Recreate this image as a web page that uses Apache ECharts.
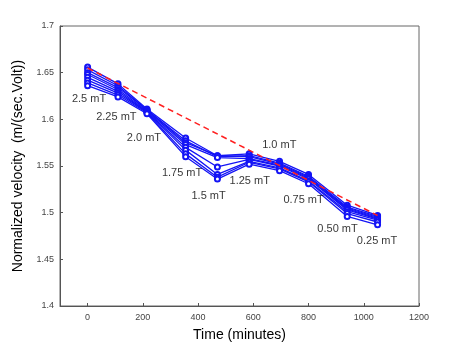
<!DOCTYPE html>
<html>
<head>
<meta charset="utf-8">
<script src="https://cdn.jsdelivr.net/npm/echarts@6/dist/echarts.min.js"></script>
<style>
html,body{margin:0;padding:0;background:#fff;}
#chart{width:463px;height:347px;}
</style>
</head>
<body>
<div id="chart"></div>
<script>
// time points (minutes)
var times = [0, 110, 215, 355, 470, 585, 695, 800, 940, 1050];
// normalized velocity, one array per run
var run1 = [1.656, 1.638, 1.611, 1.580, 1.561, 1.563, 1.555, 1.541, 1.508, 1.497];
var run2 = [1.653, 1.636, 1.610, 1.577, 1.560, 1.561, 1.553, 1.539, 1.506, 1.496];
var run3 = [1.650, 1.634, 1.610, 1.575, 1.561, 1.560, 1.552, 1.538, 1.505, 1.495];
var run4 = [1.648, 1.632, 1.609, 1.573, 1.559, 1.558, 1.551, 1.537, 1.504, 1.494];
var run5 = [1.645, 1.630, 1.608, 1.570, 1.549, 1.557, 1.550, 1.536, 1.503, 1.493];
var run6 = [1.642, 1.628, 1.608, 1.567, 1.541, 1.555, 1.548, 1.534, 1.501, 1.492];
var run7 = [1.639, 1.626, 1.607, 1.563, 1.538, 1.554, 1.547, 1.533, 1.499, 1.490];
var run8 = [1.636, 1.624, 1.606, 1.560, 1.536, 1.552, 1.545, 1.531, 1.496, 1.487];
var runs = [run1, run2, run3, run4, run5, run6, run7, run8];
// red dashed reference line
var refX = [0, 1050];
var refY = [1.655, 1.497];
// field labels
var labelText = ['2.5 mT', '2.25 mT', '2.0 mT', '1.75 mT', '1.5 mT', '1.25 mT', '1.0 mT', '0.75 mT', '0.50 mT', '0.25 mT'];
var labelX = [5, 104, 204, 342, 438, 587, 694, 782, 905, 1048];
var labelY = [1.622, 1.602, 1.580, 1.543, 1.518, 1.534, 1.573, 1.514, 1.483, 1.470];
// tick labels
var xTicks = [0, 200, 400, 600, 800, 1000, 1200];

var font = '"Liberation Sans", Arial, sans-serif';
var series = [];
for (var i = 0; i < runs.length; i++) {
	var pts = [];
	for (var j = 0; j < times.length; j++) {
		pts.push([times[j], runs[i][j]]);
	}
	series.push({
		type : 'line',
		data : pts,
		symbol : 'emptyCircle',
		symbolSize : 5,
		z : 2,
		lineStyle : { color : '#1414f5', width : 1.3 },
		itemStyle : { color : '#1414f5', borderWidth : 1 }
	});
}
var refPts = [];
for (var k = 0; k < refX.length; k++) refPts.push([refX[k], refY[k]]);
series.push({
	type : 'line',
	data : refPts,
	symbol : 'none',
	z : 3,
	lineStyle : { color : '#ff2020', width : 1.5, type : [6, 4] }
});
var lab = [];
for (var m = 0; m < labelText.length; m++) lab.push([labelX[m], labelY[m], labelText[m]]);
series.push({
	type : 'scatter',
	data : lab,
	symbolSize : 0,
	itemStyle : { color : 'rgba(0,0,0,0)' },
	z : 4,
	label : {
		show : true,
		position : 'inside',
		formatter : function(p) { return p.data[2]; },
		color : '#000',
		fontSize : 11,
		fontFamily : font
	}
});

var mycharts = echarts.init(document.getElementById('chart'));
mycharts.setOption({
	animation : false,
	grid : { left : 60, right : 44, top : 26, bottom : 38, show : true, borderColor : '#666', borderWidth : 1 },
	xAxis : {
		type : 'value',
		min : -100,
		max : 1200,
		name : 'Time (minutes)',
		nameLocation : 'middle',
		nameGap : 22,
		nameTextStyle : { fontSize : 14, color : '#000', fontFamily : font },
		splitLine : { show : false },
		axisLine : { onZero : false, lineStyle : { color : '#555' } },
		axisTick : { inside : true, length : 3, customValues : xTicks, lineStyle : { color : '#555' } },
		axisLabel : { customValues : xTicks, formatter : function(v) { return String(v); }, fontSize : 9, color : '#444', fontFamily : font, margin : 7 }
	},
	yAxis : {
		type : 'value',
		min : 1.4,
		max : 1.7,
		interval : 0.05,
		name : 'Normalized velocity  (m/(sec.Volt))',
		nameLocation : 'middle',
		nameGap : 33,
		nameTextStyle : { fontSize : 14, color : '#000', fontFamily : font },
		splitLine : { show : false },
		axisLine : { show : true, onZero : false, lineStyle : { color : '#555' } },
		axisTick : { show : true, inside : true, length : 3, lineStyle : { color : '#555' } },
		axisLabel : { formatter : function(v) { return String(+v.toFixed(2)); }, fontSize : 9, color : '#444', fontFamily : font, margin : 6 }
	},
	series : series
});
</script>
</body>
</html>
